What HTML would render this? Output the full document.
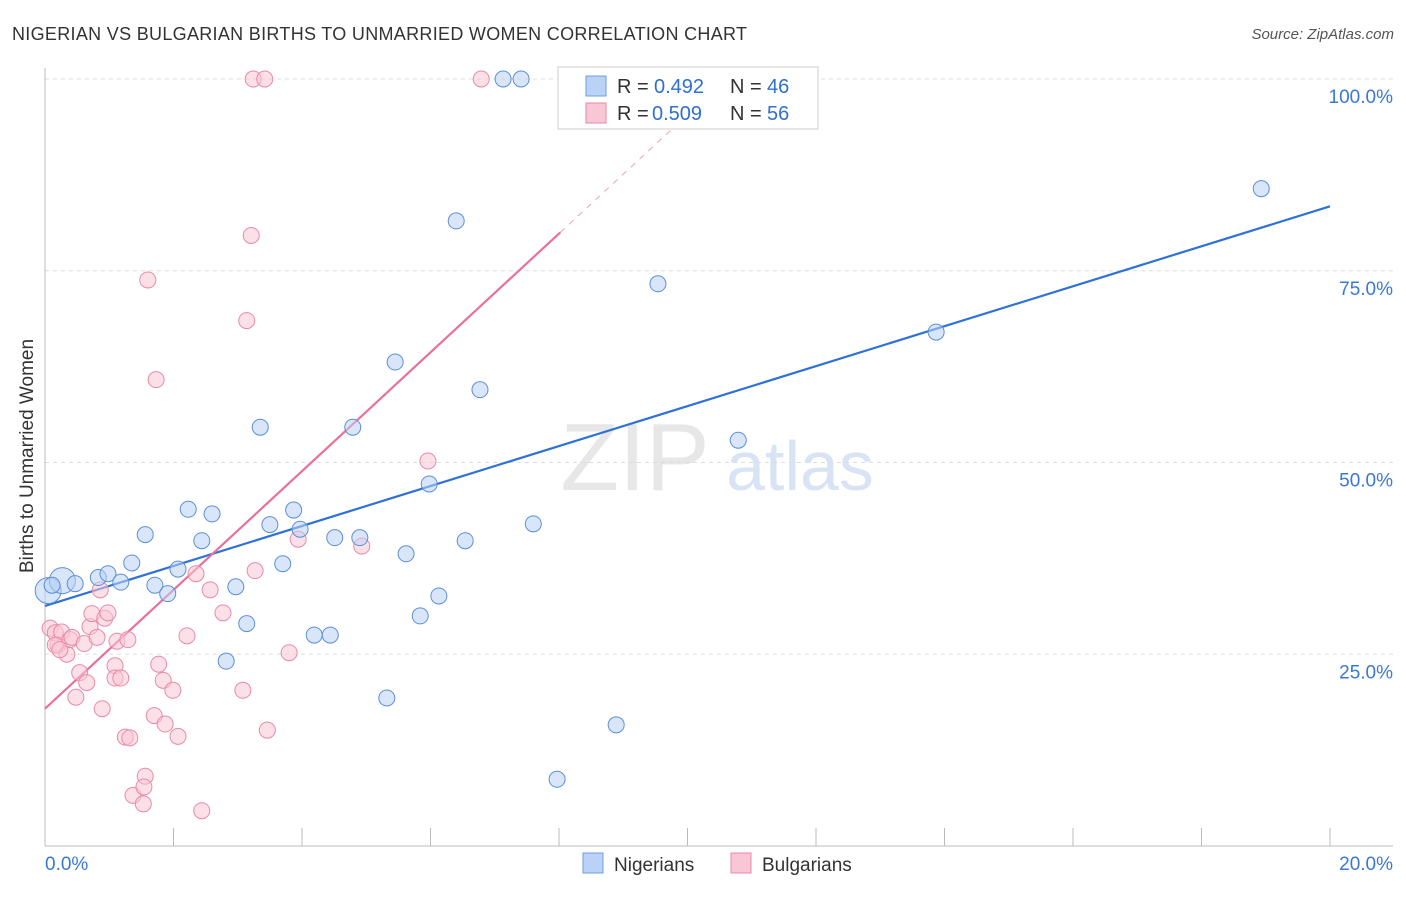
<!DOCTYPE html>
<html><head><meta charset="utf-8">
<style>
body{margin:0;background:#fff;font-family:"Liberation Sans",sans-serif;}
svg text{font-family:"Liberation Sans",sans-serif;}
</style></head>
<body>
<svg id="c" width="1406" height="892" xmlns="http://www.w3.org/2000/svg">
<text x="12" y="40" font-size="18" fill="#333" textLength="735">NIGERIAN VS BULGARIAN BIRTHS TO UNMARRIED WOMEN CORRELATION CHART</text>
<text x="1394" y="39" font-size="15" fill="#555" text-anchor="end" font-style="italic">Source: ZipAtlas.com</text>
<text x="33" y="456" font-size="19" fill="#333" text-anchor="middle" transform="rotate(-90 33 456)">Births to Unmarried Women</text>
<g>
<text x="635" y="490" font-size="96" fill="#ddd" text-anchor="middle" font-family="Liberation Serif" opacity="0.7">ZIP</text>
<text x="800" y="490" font-size="70" fill="#c8daf2" text-anchor="middle" opacity="0.7">atlas</text>
</g>
<g id="grid"></g><g id="axes"></g><g id="trend"></g><g id="pts"></g>
<g>
<rect x="558" y="67" width="260" height="62" fill="#fff" stroke="#ccc"/>
<rect x="586" y="76" width="20" height="20" fill="#b9d2f5" stroke="#6d9ee0"/>
<text x="617" y="93" font-size="20" fill="#333">R = </text><text x="654" y="93" font-size="20" fill="#2f6fd0">0.492</text>
<text x="730" y="93" font-size="20" fill="#333">N = </text><text x="767" y="93" font-size="20" fill="#2f6fd0">46</text>
<rect x="586" y="103" width="20" height="20" fill="#f9c6d5" stroke="#e98aa8"/>
<text x="617" y="120" font-size="20" fill="#333">R = </text><text x="652" y="120" font-size="20" fill="#2f6fd0">0.509</text>
<text x="730" y="120" font-size="20" fill="#333">N = </text><text x="767" y="120" font-size="20" fill="#2f6fd0">56</text>
</g>
<g>
<rect x="583" y="853" width="20" height="20" fill="#b9d2f5" stroke="#6d9ee0"/>
<text x="614" y="871" font-size="19" fill="#333">Nigerians</text>
<rect x="731" y="853" width="20" height="20" fill="#f9c6d5" stroke="#e98aa8"/>
<text x="762" y="871" font-size="19" fill="#333">Bulgarians</text>
</g>
</svg>
<script>
const xTicks=[0,2,4,6,8,10,12,14,16,18,20];
const yTicks=[25,50,75,100];
const yTickLabels=["25.0%","50.0%","75.0%","100.0%"];
const xEndLabels=["0.0%","20.0%"];
const nigX=[0.05,0.27,0.47,0.83,0.98,1.18,1.35,1.56,1.71,1.91,2.07,2.23,2.44,2.6,2.97,3.14,2.82,3.35,3.5,3.7,3.87,3.97,4.19,4.44,4.51,4.79,4.9,5.32,5.45,5.62,5.84,5.98,6.13,6.4,6.54,6.77,7.13,7.41,7.6,7.97,8.89,9.54,10.79,13.87,18.93,0.11];
const nigY=[33.3,34.6,34.2,35.0,35.5,34.4,36.9,40.6,34.0,32.9,36.1,43.9,39.8,43.3,33.8,29.0,24.1,54.6,41.9,36.8,43.8,41.3,27.5,27.5,40.2,54.6,40.2,19.3,63.1,38.1,30.0,47.2,32.6,81.5,39.8,59.5,100,100,42.0,8.7,15.8,73.3,52.9,67.0,85.7,34.0];
const bulX=[0.08,0.16,0.2,0.26,0.34,0.39,0.42,0.48,0.54,0.61,0.65,0.7,0.73,0.81,0.86,0.89,0.93,0.98,1.09,1.09,1.12,1.18,1.25,1.29,1.32,1.37,1.53,1.56,1.54,1.7,1.73,1.6,1.77,1.84,1.87,1.99,2.07,2.21,2.35,2.44,2.57,2.77,3.08,3.14,3.21,3.27,3.24,3.42,3.46,3.8,3.94,4.93,5.96,6.79,0.16,0.23];
const bulY=[28.4,27.8,26.2,27.9,25.0,26.9,27.2,19.4,22.6,26.4,21.3,28.6,30.3,27.2,33.4,17.9,29.7,30.4,23.5,21.9,26.7,21.9,14.2,26.9,14.1,6.6,5.5,9.1,7.7,17.0,60.8,73.8,23.7,21.6,15.9,20.3,14.3,27.4,35.5,4.6,33.4,30.4,20.3,68.5,79.6,35.9,100,100,15.1,25.2,40.0,39.1,50.2,100,26.2,25.6];
const nigTrendX=[0,20], nigTrendY=[31.3,83.4];
const bulTrendX=[0,8.02], bulTrendY=[17.9,80.0];
const bulDashX=[8.02,10.6], bulDashY=[80.0,100];
const X=v=>45+v*64.25, Y=v=>846-v*7.67;
const NS="http://www.w3.org/2000/svg";
function mk(tag,attrs,parent){const e=document.createElementNS(NS,tag);for(const k in attrs)e.setAttribute(k,attrs[k]);document.getElementById(parent).appendChild(e);return e;}
yTicks.forEach((t,i)=>{
 const g=mk('line',{x1:45,x2:1393,y1:Y(t),y2:Y(t),stroke:'#ddd','stroke-dasharray':'4,4'},'grid');
 
 
 const l=mk('text',{x:1393,y:Y(t)+24,'font-size':19,fill:'#3a78d4','text-anchor':'end'},'grid');
 l.textContent=yTickLabels[i];
 
 
});
let a=mk('line',{x1:45,x2:45,y1:68,y2:846,stroke:'#bbb'},'axes');


a=mk('line',{x1:45,x2:1393,y1:846,y2:846,stroke:'#bbb'},'axes');


xTicks.forEach(t=>{const k=mk('line',{x1:X(t),x2:X(t),y1:828,y2:846,stroke:'#bbb'},'axes');
 
 });
[[0,'start',45],[20,'end',1393]].forEach((d,i)=>{const t=mk('text',{x:d[2],y:870,'font-size':19,fill:'#3a78d4','text-anchor':d[1]},'axes');t.textContent=xEndLabels[i];
 
 });
let ln=mk('line',{x1:X(bulDashX[0]),y1:Y(bulDashY[0]),x2:X(bulDashX[1]),y2:Y(bulDashY[1]),stroke:'#f0a0b8','stroke-dasharray':'6,6','stroke-width':1},'trend');


function drawPts(xs,ys,fill,stroke,name){xs.forEach((x,i)=>{const big=name==='nigerian-point'&&i<2;
 const c=mk('circle',{cx:X(x),cy:Y(ys[i]),r:big?13:8,fill:fill,'fill-opacity':0.55,stroke:stroke,'stroke-width':1},'pts');
 
 });}
drawPts(bulX,bulY,'#f9c6d5','#e98aa8','bulgarian-point');
drawPts(nigX,nigY,'#b9d2f5','#5b8fd8','nigerian-point');
ln=mk('line',{x1:X(nigTrendX[0]),y1:Y(nigTrendY[0]),x2:X(nigTrendX[1]),y2:Y(nigTrendY[1]),stroke:'#2f72d6','stroke-width':2.2},'trend');


ln=mk('line',{x1:X(bulTrendX[0]),y1:Y(bulTrendY[0]),x2:X(bulTrendX[1]),y2:Y(bulTrendY[1]),stroke:'#e8709a','stroke-width':2.2},'trend');


</script>
</body></html>
